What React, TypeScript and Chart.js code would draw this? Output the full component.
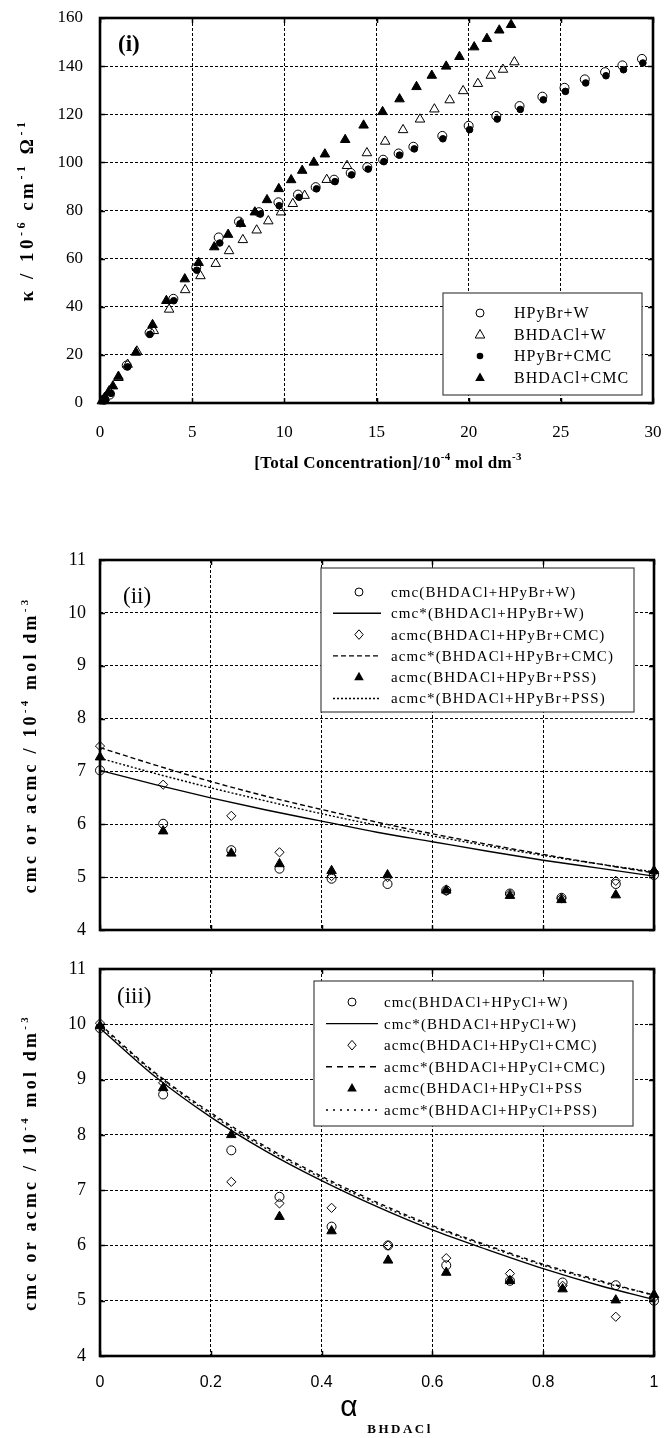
import React, { useEffect, useRef } from 'react';
import { Chart, registerables } from 'chart.js';

Chart.register(...registerables);

const SERIF = '"Liberation Serif", "Times New Roman", serif';
const SANS = '"Liberation Sans", Arial, sans-serif';

// ---------------- Panel (i) data ----------------
const hpybrW_x = [0.23, 0.53, 1.45, 2.69, 3.98, 5.22, 6.44, 7.54, 8.62, 9.68, 10.74, 11.7, 12.7, 13.6, 14.5, 15.36, 16.2, 17.0, 18.57, 20.0, 21.5, 22.76, 24.0, 25.2, 26.3, 27.4, 28.34, 29.4];
const hpybrW_y = [1.4, 3.5, 15.6, 29.2, 43.3, 56.3, 68.8, 75.4, 79.3, 83.4, 86.6, 89.7, 92.8, 95.6, 98.0, 101.1, 103.7, 106.5, 111.0, 115.2, 119.3, 123.4, 127.3, 131.0, 134.5, 137.5, 140.3, 143.0];

const bhdaclW_x = [0.2, 0.5, 1.0, 1.5, 2.0, 2.92, 3.75, 4.62, 5.45, 6.28, 7.0, 7.75, 8.5, 9.13, 9.82, 10.46, 11.1, 12.3, 13.4, 14.48, 15.47, 16.44, 17.36, 18.14, 18.97, 19.7, 20.5, 21.2, 21.86, 22.48];
const bhdaclW_y = [1.5, 5.0, 10.5, 16.0, 21.5, 30.0, 38.9, 47.0, 52.8, 57.9, 63.2, 67.8, 71.8, 75.6, 79.3, 82.8, 86.2, 92.8, 98.6, 103.9, 108.7, 113.5, 117.9, 122.1, 125.9, 129.7, 132.7, 136.1, 138.6, 141.7];

const hpybrCMC_x = [0.3, 0.6, 1.5, 2.7, 4.0, 5.25, 6.5, 7.6, 8.7, 9.72, 10.8, 11.75, 12.75, 13.65, 14.55, 15.4, 16.25, 17.05, 18.6, 20.05, 21.55, 22.8, 24.05, 25.25, 26.35, 27.45, 28.4, 29.45];
const hpybrCMC_y = [1.6, 4.0, 15.0, 28.5, 42.5, 55.2, 66.5, 74.5, 78.5, 82.0, 85.5, 89.0, 92.0, 94.8, 97.2, 100.3, 103.0, 105.6, 109.8, 113.6, 118.0, 122.0, 126.0, 129.5, 133.0, 136.0, 138.5, 141.3];

const bhdaclCMC_x = [0.1, 0.25, 0.45, 0.7, 1.0, 1.95, 2.85, 3.6, 4.6, 5.35, 6.2, 6.95, 7.65, 8.4, 9.06, 9.7, 10.37, 10.97, 11.6, 12.2, 13.3, 14.3, 15.33, 16.25, 17.17, 18.0, 18.78, 19.5, 20.3, 20.99, 21.66, 22.3];
const bhdaclCMC_y = [0.8, 2.2, 4.2, 7.0, 11.0, 21.0, 32.5, 42.5, 51.5, 58.3, 64.8, 70.0, 74.5, 79.3, 84.4, 89.0, 92.7, 96.6, 100.0, 103.4, 109.4, 115.4, 121.0, 126.3, 131.4, 136.1, 139.9, 143.9, 147.9, 151.4, 154.9, 157.2];

// ---------------- Panel (ii) data ----------------
const alpha2 = [0, 0.114, 0.237, 0.324, 0.418, 0.519, 0.625, 0.74, 0.833, 0.931, 1.0];
const cmcW2 = [7.02, 6.01, 5.51, 5.16, 4.97, 4.87, 4.75, 4.69, 4.61, 4.87, 5.04];
const acmcCMC2 = [7.48, 6.75, 6.16, 5.47, 5.02, 5.0, 4.74, 4.68, 4.6, 4.93, 5.1];
const acmcPSS2 = [7.27, 5.87, 5.45, 5.25, 5.12, 5.04, 4.75, 4.65, 4.57, 4.66, 5.12];

const lineAlpha = [0, 0.1, 0.2, 0.3, 0.4, 0.5, 0.6, 0.7, 0.8, 0.9, 1.0];
const cmcStarW2 = [7.02, 6.75, 6.5, 6.27, 6.06, 5.85, 5.67, 5.49, 5.32, 5.17, 5.02];
const acmcStarCMC2 = [7.45, 7.12, 6.81, 6.53, 6.28, 6.04, 5.82, 5.62, 5.43, 5.25, 5.08];
const acmcStarPSS2 = [7.25, 6.96, 6.69, 6.44, 6.2, 5.98, 5.78, 5.59, 5.41, 5.25, 5.1];

// ---------------- Panel (iii) data ----------------
const alpha3 = [0, 0.114, 0.237, 0.324, 0.418, 0.52, 0.625, 0.74, 0.835, 0.931, 1.0];
const cmcW3 = [9.93, 8.73, 7.72, 6.88, 6.34, 6.0, 5.64, 5.36, 5.33, 5.28, 5.0];
const acmcCMC3 = [10.02, 8.94, 7.15, 6.76, 6.68, 6.0, 5.77, 5.49, 5.27, 4.71, 5.05];
const acmcPSS3 = [9.97, 8.85, 8.0, 6.52, 6.26, 5.73, 5.51, 5.36, 5.21, 5.01, 5.11];

const cmcStarW3 = [9.93, 9.05, 8.32, 7.7, 7.17, 6.7, 6.28, 5.92, 5.58, 5.28, 5.02];
const acmcStarCMC3 = [10.0, 9.12, 8.4, 7.78, 7.25, 6.78, 6.36, 6.0, 5.66, 5.37, 5.1];
const acmcStarPSS3 = [9.97, 9.1, 8.37, 7.75, 7.22, 6.75, 6.34, 5.98, 5.64, 5.35, 5.1];

// ---------------- Labels ----------------
const legend1 = ['HPyBr+W', 'BHDACl+W', 'HPyBr+CMC', 'BHDACl+CMC'];
const legend2 = [
  'cmc(BHDACl+HPyBr+W)',
  'cmc*(BHDACl+HPyBr+W)',
  'acmc(BHDACl+HPyBr+CMC)',
  'acmc*(BHDACl+HPyBr+CMC)',
  'acmc(BHDACl+HPyBr+PSS)',
  'acmc*(BHDACl+HPyBr+PSS)',
];
const legend3 = [
  'cmc(BHDACl+HPyCl+W)',
  'cmc*(BHDACl+HPyCl+W)',
  'acmc(BHDACl+HPyCl+CMC)',
  'acmc*(BHDACl+HPyCl+CMC)',
  'acmc(BHDACl+HPyCl+PSS',
  'acmc*(BHDACl+HPyCl+PSS)',
];

const pts = (xs: number[], ys: number[]) => xs.map((x, i) => ({ x, y: ys[i] }));

type Seg = { t: string; sup?: boolean };

function drawRich(
  ctx: CanvasRenderingContext2D,
  segs: Seg[],
  cx: number,
  cy: number,
  size: number,
  bold: boolean,
  spacing: number,
  rotate: boolean,
  family = SERIF
) {
  ctx.save();
  ctx.translate(cx, cy);
  if (rotate) ctx.rotate(-Math.PI / 2);
  const w = bold ? 'bold ' : '';
  const mainFont = `${w}${size}px ${family}`;
  const supFont = `${w}${Math.round(size * 0.62)}px ${family}`;
  (ctx as any).letterSpacing = spacing + 'px';
  ctx.fillStyle = '#000';
  ctx.textAlign = 'left';
  ctx.textBaseline = 'alphabetic';
  let total = 0;
  const widths = segs.map((s) => {
    ctx.font = s.sup ? supFont : mainFont;
    const m = ctx.measureText(s.t).width;
    total += m;
    return m;
  });
  let x = -total / 2;
  const base = size * 0.33;
  segs.forEach((s, i) => {
    ctx.font = s.sup ? supFont : mainFont;
    ctx.fillText(s.t, x, s.sup ? base - size * 0.45 : base);
    x += widths[i];
  });
  ctx.restore();
}

function drawText(ctx: CanvasRenderingContext2D, t: string, x: number, y: number, font: string, spacing = 0) {
  ctx.save();
  (ctx as any).letterSpacing = spacing + 'px';
  ctx.font = font;
  ctx.fillStyle = '#000';
  ctx.textAlign = 'left';
  ctx.textBaseline = 'middle';
  ctx.fillText(t, x, y);
  ctx.restore();
}

function marker(ctx: CanvasRenderingContext2D, kind: string, x: number, y: number) {
  ctx.save();
  ctx.setLineDash([]);
  ctx.lineWidth = 1;
  ctx.strokeStyle = '#000';
  ctx.fillStyle = '#000';
  ctx.beginPath();
  if (kind === 'circleOpen') {
    ctx.arc(x, y, 4, 0, Math.PI * 2);
    ctx.stroke();
  } else if (kind === 'circleFilled') {
    ctx.arc(x, y, 3.3, 0, Math.PI * 2);
    ctx.fill();
  } else if (kind === 'triOpen' || kind === 'triFilled') {
    ctx.moveTo(x, y - 5.5);
    ctx.lineTo(x + 4.8, y + 3);
    ctx.lineTo(x - 4.8, y + 3);
    ctx.closePath();
    if (kind === 'triFilled') ctx.fill();
    else ctx.stroke();
  } else if (kind === 'diamondOpen') {
    ctx.moveTo(x, y - 4.8);
    ctx.lineTo(x + 4.2, y);
    ctx.lineTo(x, y + 4.8);
    ctx.lineTo(x - 4.2, y);
    ctx.closePath();
    ctx.stroke();
  }
  ctx.restore();
}

function legendLine(ctx: CanvasRenderingContext2D, x1: number, x2: number, y: number, dash: number[], lw: number) {
  ctx.save();
  ctx.strokeStyle = '#000';
  ctx.lineWidth = lw;
  ctx.setLineDash(dash);
  ctx.beginPath();
  ctx.moveTo(x1, y);
  ctx.lineTo(x2, y);
  ctx.stroke();
  ctx.restore();
}

function legendBox(ctx: CanvasRenderingContext2D, x1: number, y1: number, x2: number, y2: number) {
  ctx.save();
  ctx.fillStyle = '#fff';
  ctx.fillRect(x1, y1, x2 - x1, y2 - y1);
  ctx.strokeStyle = '#444';
  ctx.lineWidth = 1.2;
  ctx.setLineDash([]);
  ctx.strokeRect(x1, y1, x2 - x1, y2 - y1);
  ctx.restore();
}

const DASH_CMC = [5, 3];
const DASH_PSS = [2, 2];

type Spec = {
  id: string;
  height: number;
  padTop: number;
  padRight: number;
  xAxisH: number;
  xMin: number;
  xMax: number;
  xStep: number;
  yMin: number;
  yMax: number;
  yStep: number;
  xTickDisplay: boolean;
  xTickFont: any;
  xTickPad: number;
  yTickFont: any;
  yTickPad: number;
  datasets: any[];
  decorate: (ctx: CanvasRenderingContext2D, chart: any) => void;
};

const fmtTick = (v: any) => String(Math.round(Number(v) * 10) / 10);

function buildConfig(s: Spec): any {
  const framePlugin = {
    id: 'frame_' + s.id,
    beforeDatasetsDraw(chart: any) {
      const { ctx, chartArea: a, scales } = chart;
      ctx.save();
      ctx.setLineDash([]);
      ctx.strokeStyle = '#000';
      ctx.lineWidth = 1.5;
      const tl = 5;
      for (let v = s.xMin; v <= s.xMax + 1e-9; v += s.xStep) {
        const px = Math.round(scales.x.getPixelForValue(v)) + 0.5;
        ctx.beginPath();
        ctx.moveTo(px, a.bottom);
        ctx.lineTo(px, a.bottom - tl);
        ctx.moveTo(px, a.top);
        ctx.lineTo(px, a.top + tl);
        ctx.stroke();
      }
      for (let v = s.yMin; v <= s.yMax + 1e-9; v += s.yStep) {
        const py = Math.round(scales.y.getPixelForValue(v)) + 0.5;
        ctx.beginPath();
        ctx.moveTo(a.left, py);
        ctx.lineTo(a.left + tl, py);
        ctx.moveTo(a.right, py);
        ctx.lineTo(a.right - tl, py);
        ctx.stroke();
      }
      ctx.lineWidth = 2.6;
      ctx.strokeRect(a.left, a.top, a.right - a.left, a.bottom - a.top);
      ctx.restore();
    },
    afterDraw(chart: any) {
      s.decorate(chart.ctx, chart);
    },
  };
  const zeroPad = (scale: any) => {
    scale.paddingLeft = 0;
    scale.paddingRight = 0;
    scale.paddingTop = 0;
    scale.paddingBottom = 0;
  };
  return {
    type: 'scatter',
    data: { datasets: s.datasets },
    options: {
      responsive: false,
      animation: false,
      events: [],
      layout: { padding: { top: s.padTop, right: s.padRight, left: 0, bottom: 0 } },
      plugins: { legend: { display: false }, tooltip: { enabled: false } },
      scales: {
        x: {
          type: 'linear',
          min: s.xMin,
          max: s.xMax,
          ticks: {
            stepSize: s.xStep,
            display: s.xTickDisplay,
            font: s.xTickFont,
            color: '#000',
            padding: s.xTickPad,
            maxRotation: 0,
            autoSkip: false,
            callback: fmtTick,
          },
          grid: { color: '#000', lineWidth: 1, drawTicks: false },
          border: { display: false, dash: [3, 2] },
          afterFit(scale: any) {
            scale.height = s.xAxisH;
            zeroPad(scale);
          },
        },
        y: {
          type: 'linear',
          min: s.yMin,
          max: s.yMax,
          ticks: {
            stepSize: s.yStep,
            font: s.yTickFont,
            color: '#000',
            padding: s.yTickPad,
            autoSkip: false,
            callback: fmtTick,
          },
          grid: { color: '#000', lineWidth: 1, drawTicks: false },
          border: { display: false, dash: [3, 2] },
          afterFit(scale: any) {
            scale.width = 100;
            zeroPad(scale);
          },
        },
      },
    },
    plugins: [framePlugin],
  };
}

const openBg = 'rgba(0,0,0,0)';
const scatterDs = (data: any, style: string, r: number, filled: boolean) => ({
  data,
  pointStyle: style,
  pointRadius: r,
  pointBorderWidth: 1,
  pointBorderColor: '#000',
  pointBackgroundColor: filled ? '#000' : openBg,
  showLine: false,
  clip: false,
});
const lineDs = (data: any, dash: number[], lw: number) => ({
  data,
  showLine: true,
  pointRadius: 0,
  borderColor: '#000',
  borderWidth: lw,
  borderDash: dash,
  cubicInterpolationMode: 'monotone',
  fill: false,
  clip: false,
});

const spec1: Spec = {
  id: 'p1',
  height: 520,
  padTop: 18,
  padRight: 11,
  xAxisH: 520 - 403,
  xMin: 0,
  xMax: 30,
  xStep: 5,
  yMin: 0,
  yMax: 160,
  yStep: 20,
  xTickDisplay: true,
  xTickFont: { family: SERIF, size: 17 },
  xTickPad: 19,
  yTickFont: { family: SERIF, size: 17 },
  yTickPad: 17,
  datasets: [
    scatterDs(pts(bhdaclCMC_x, bhdaclCMC_y), 'triangle', 5.5, true),
    scatterDs(pts(hpybrCMC_x, hpybrCMC_y), 'circle', 3.3, true),
    scatterDs(pts(bhdaclW_x, bhdaclW_y), 'triangle', 5.5, false),
    scatterDs(pts(hpybrW_x, hpybrW_y), 'circle', 4.5, false),
  ],
  decorate(ctx) {
    drawText(ctx, '(i)', 118, 45, `bold 23px ${SERIF}`);
    legendBox(ctx, 443, 293, 642, 395);
    const kinds = ['circleOpen', 'triOpen', 'circleFilled', 'triFilled'];
    const ys = [313, 335, 356, 378];
    kinds.forEach((k, i) => {
      marker(ctx, k, 480, ys[i]);
      drawText(ctx, legend1[i], 514, ys[i] + 1, `16px ${SERIF}`, 1);
    });
    drawRich(
      ctx,
      [{ t: 'κ / 10' }, { t: '-6', sup: true }, { t: ' cm' }, { t: '-1', sup: true }, { t: ' Ω' }, { t: '-1', sup: true }],
      27,
      210,
      19,
      true,
      3.5,
      true
    );
    drawRich(
      ctx,
      [{ t: '[Total Concentration]/10' }, { t: '-4', sup: true }, { t: ' mol dm' }, { t: '-3', sup: true }],
      388,
      462,
      17,
      true,
      0.3,
      false
    );
  },
};

const spec2: Spec = {
  id: 'p2',
  height: 425,
  padTop: 40,
  padRight: 10,
  xAxisH: 15,
  xMin: 0,
  xMax: 1,
  xStep: 0.2,
  yMin: 4,
  yMax: 11,
  yStep: 1,
  xTickDisplay: false,
  xTickFont: { family: SANS, size: 16 },
  xTickPad: 17,
  yTickFont: { family: SERIF, size: 18 },
  yTickPad: 14,
  datasets: [
    lineDs(pts(lineAlpha, cmcStarW2), [], 1.4),
    lineDs(pts(lineAlpha, acmcStarCMC2), DASH_CMC, 1.4),
    lineDs(pts(lineAlpha, acmcStarPSS2), DASH_PSS, 1.4),
    scatterDs(pts(alpha2, acmcPSS2), 'triangle', 5.5, true),
    scatterDs(pts(alpha2, acmcCMC2), 'rectRot', 4.6, false),
    scatterDs(pts(alpha2, cmcW2), 'circle', 4.5, false),
  ],
  decorate(ctx, chart) {
    drawText(ctx, '(ii)', 123, 597 - 520, `23px ${SERIF}`);
    const top = 568 - 520;
    legendBox(ctx, 321, top, 634, top + 144);
    const y0 = top + 24;
    const dy = 21.3;
    const mx = 359;
    const tx = 391;
    const font = `15px ${SERIF}`;
    for (let i = 0; i < 6; i++) {
      const y = y0 + i * dy;
      if (i === 0) marker(ctx, 'circleOpen', mx, y);
      if (i === 1) legendLine(ctx, 333, 381, y, [], 1.4);
      if (i === 2) marker(ctx, 'diamondOpen', mx, y);
      if (i === 3) legendLine(ctx, 333, 381, y, DASH_CMC, 1.4);
      if (i === 4) marker(ctx, 'triFilled', mx, y);
      if (i === 5) legendLine(ctx, 333, 381, y, DASH_PSS, 1.4);
      drawText(ctx, legend2[i], tx, y + 1, font, 1.1);
    }
    const a = chart.chartArea;
    drawRich(
      ctx,
      [{ t: 'cmc or acmc / 10' }, { t: '-4', sup: true }, { t: ' mol dm' }, { t: '-3', sup: true }],
      30,
      (a.top + a.bottom) / 2,
      18,
      true,
      3.2,
      true
    );
  },
};

const spec3: Spec = {
  id: 'p3',
  height: 493,
  padTop: 24,
  padRight: 10,
  xAxisH: 493 - 411,
  xMin: 0,
  xMax: 1,
  xStep: 0.2,
  yMin: 4,
  yMax: 11,
  yStep: 1,
  xTickDisplay: true,
  xTickFont: { family: SANS, size: 16 },
  xTickPad: 17,
  yTickFont: { family: SERIF, size: 18 },
  yTickPad: 14,
  datasets: [
    lineDs(pts(lineAlpha, cmcStarW3), [], 1.4),
    lineDs(pts(lineAlpha, acmcStarCMC3), [4, 4], 1.4),
    lineDs(pts(lineAlpha, acmcStarPSS3), [2, 3], 1.4),
    scatterDs(pts(alpha3, acmcPSS3), 'triangle', 5.5, true),
    scatterDs(pts(alpha3, acmcCMC3), 'rectRot', 4.6, false),
    scatterDs(pts(alpha3, cmcW3), 'circle', 4.5, false),
  ],
  decorate(ctx, chart) {
    drawText(ctx, '(iii)', 117, 997 - 945, `23px ${SERIF}`);
    const top = 981 - 945;
    legendBox(ctx, 314, top, 633, top + 145);
    const y0 = top + 21;
    const dy = 21.6;
    const mx = 352;
    const tx = 384;
    const font = `15px ${SERIF}`;
    for (let i = 0; i < 6; i++) {
      const y = y0 + i * dy;
      if (i === 0) marker(ctx, 'circleOpen', mx, y);
      if (i === 1) legendLine(ctx, 326, 378, y, [], 1.4);
      if (i === 2) marker(ctx, 'diamondOpen', mx, y);
      if (i === 3) legendLine(ctx, 326, 378, y, [6, 5], 1.4);
      if (i === 4) marker(ctx, 'triFilled', mx, y);
      if (i === 5) legendLine(ctx, 326, 378, y, [2, 5], 1.4);
      drawText(ctx, legend3[i], tx, y + 1, font, 1.1);
    }
    const a = chart.chartArea;
    drawRich(
      ctx,
      [{ t: 'cmc or acmc / 10' }, { t: '-4', sup: true }, { t: ' mol dm' }, { t: '-3', sup: true }],
      30,
      (a.top + a.bottom) / 2,
      18,
      true,
      3.2,
      true
    );
    ctx.save();
    ctx.font = `30px ${SANS}`;
    ctx.fillStyle = '#000';
    ctx.textAlign = 'center';
    ctx.textBaseline = 'middle';
    ctx.fillText('α', 349, 1408 - 945);
    ctx.restore();
    ctx.save();
    (ctx as any).letterSpacing = '2.5px';
    ctx.font = `bold 13px ${SERIF}`;
    ctx.fillStyle = '#000';
    ctx.textAlign = 'center';
    ctx.textBaseline = 'middle';
    ctx.fillText('BHDACl', 400, 1430 - 945);
    ctx.restore();
  },
};

function Panel({ spec }: { spec: Spec }) {
  const ref = useRef<HTMLCanvasElement>(null);
  useEffect(() => {
    const chart = new Chart(ref.current as HTMLCanvasElement, buildConfig(spec));
    return () => chart.destroy();
  }, []);
  return (
    <canvas
      ref={ref}
      width={664}
      height={spec.height}
      style={{ display: 'block', width: 664, height: spec.height }}
    />
  );
}

export default function App() {
  useEffect(() => {
    document.body.style.margin = '0';
    document.body.style.background = '#fff';
  }, []);
  return (
    <div style={{ width: 664, height: 1438, background: '#fff' }}>
      <Panel spec={spec1} />
      <Panel spec={spec2} />
      <Panel spec={spec3} />
    </div>
  );
}
